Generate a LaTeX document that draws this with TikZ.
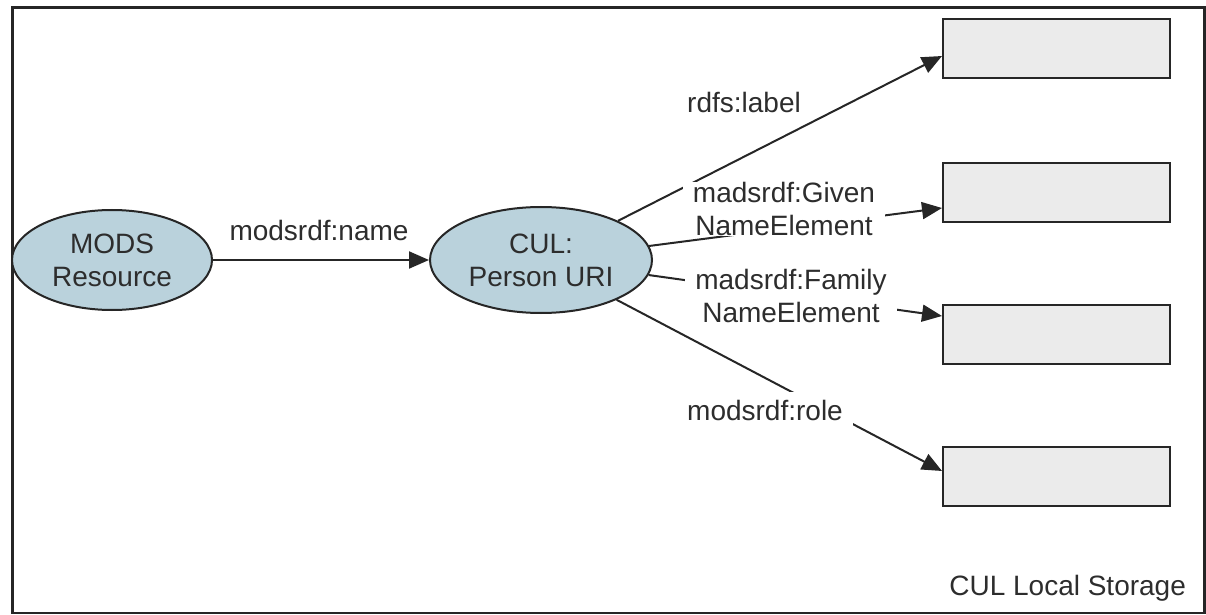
\documentclass[tikz,border=0pt]{standalone}
\usepackage{fontspec}
\setmainfont{Liberation Sans}
\usetikzlibrary{shapes.geometric,arrows.meta,calc}
\definecolor{entfill}{RGB}{186,210,220}
\definecolor{boxfill}{RGB}{235,235,235}
\definecolor{ink}{RGB}{38,38,38}
\definecolor{txt}{RGB}{45,45,45}
\tikzset{
  ent/.style={ellipse, draw=ink, line width=1pt, fill=entfill, inner sep=0pt},
  store/.style={rectangle, draw=ink, line width=1pt, fill=boxfill, minimum width=113.5pt, minimum height=29.5pt, inner sep=0pt},
  txtnode/.style={text=txt, align=center, font=\fontsize{14pt}{16.5pt}\selectfont},
  lbl/.style={txtnode, fill=white, inner xsep=5pt, inner ysep=1pt},
  arr/.style={draw=ink, line width=1pt, -{Triangle[length=10pt,width=8.5pt]}},
  frame/.style={draw=ink, line width=1.2pt}
}
\begin{document}
\begin{tikzpicture}[x=0.5pt,y=-0.5pt]
\useasboundingbox (0,0) rectangle (1206,615);
\draw[frame] (12.5,7.5) rectangle (1204.5,613);
% entities
\node[ent, minimum width=100pt, minimum height=50pt] (mods) at (112,260) {};
\node[txtnode] at (mods.center) {MODS\\Resource};
\node[ent, minimum width=111pt, minimum height=53pt] (cul) at (541,260) {};
\node[txtnode] at (cul.center) {CUL:\\Person URI};
% storage boxes
\node[store] (b1) at (1056.5,48.5) {};
\node[store] (b2) at (1056.5,192.5) {};
\node[store] (b3) at (1056.5,334) {};
\node[store] (b4) at (1056.5,476.5) {};
\coordinate (t1) at ($(b1.west)+(0,7.5)$);
\coordinate (t2) at ($(b2.west)+(0,15.5)$);
\coordinate (t3) at ($(b3.west)+(0,-18)$);
\coordinate (t4) at ($(b4.west)+(0,-5.5)$);
% connectors
\draw[arr] (mods) -- (cul);
\draw[arr] (cul) -- (t1);
\draw[arr] (cul) -- (t2);
\draw[arr] (cul) -- (t3);
\draw[arr] (cul) -- (t4);
% labels
\node[txtnode] (lname) at (319,230) {modsrdf:name};
\node[txtnode] (llabel) at (744,102) {rdfs:label};
\node[lbl, inner ysep=0pt] (lgiven) at (784,209) {madsrdf:Given\\NameElement};
\node[lbl] (lfamily) at (791,296) {madsrdf:Family\\NameElement};
\node[lbl, inner ysep=4pt] (lrole) at (765,410) {modsrdf:role};
\node[txtnode, anchor=east] (lstore) at (1193,588) {CUL Local Storage};
\end{tikzpicture}
\end{document}
